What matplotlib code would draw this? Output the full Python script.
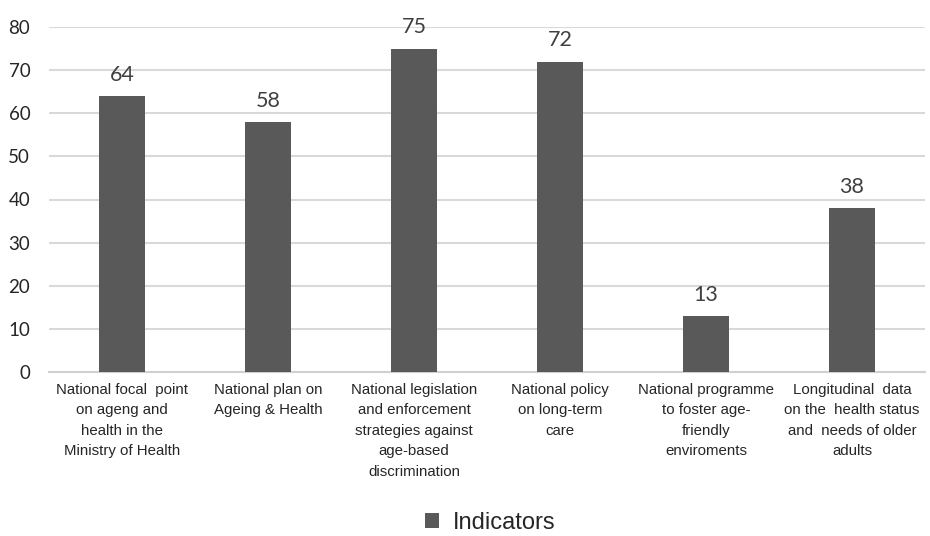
import matplotlib
matplotlib.use("Agg")
import matplotlib.pyplot as plt

categories = [
    "National focal  point\non ageng and\nhealth in the\nMinistry of Health",
    "National plan on\nAgeing & Health",
    "National legislation\nand enforcement\nstrategies against\nage-based\ndiscrimination",
    "National policy\non long-term\ncare",
    "National programme\nto foster age-\nfriendly\nenviroments",
    "Longitudinal  data\non the  health status\nand  needs of older\nadults",
]
values = [64, 58, 75, 72, 13, 38]
yticks = [0, 10, 20, 30, 40, 50, 60, 70, 80]
series_name = "Indicators"

num_font = "Lato"

fig = plt.figure(figsize=(9.3, 5.36), dpi=100)
ax = fig.add_axes([49/930, 1-372/536, 876/930, 345/536])

x = list(range(len(values)))
bars = ax.bar(x, values, width=0.31, color="#595959", zorder=3, label=series_name)
ax.set_xlim(-0.5, len(values)-0.5)
ax.set_ylim(0, 80)
ax.set_yticks(yticks)
ax.set_yticklabels([str(v) for v in yticks], fontsize=13.5, family=num_font, color="#262626")
ax.yaxis.grid(True, color="#d9d9d9", linewidth=1.5, zorder=0)
ax.tick_params(axis="y", length=0, pad=13.5)
ax.tick_params(axis="x", length=0, pad=8)
ax.set_xticks(x)
ax.set_xticklabels(categories, fontsize=10.8, family="Liberation Sans", color="#262626",
                   linespacing=1.58)
for s in ["top", "right", "left"]:
    ax.spines[s].set_visible(False)
ax.spines["bottom"].set_color("#d0d0d0")
ax.spines["bottom"].set_linewidth(1.5)

for xi, v in zip(x, values):
    ax.annotate(str(v), (xi, v), xytext=(0, 8), textcoords="offset points",
                ha="center", va="bottom", fontsize=15.5, family=num_font,
                color="#404040", clip_on=False)

leg = fig.legend(handles=[bars], labels=[series_name], loc="center",
                 bbox_to_anchor=(490/930, 1-523/536), frameon=False,
                 prop={"family": "Liberation Sans", "size": 17},
                 handlelength=0.6, handleheight=0.6, handletextpad=0.6)
for t in leg.get_texts():
    t.set_color("#262626")

fig.savefig("out.png", dpi=100)
